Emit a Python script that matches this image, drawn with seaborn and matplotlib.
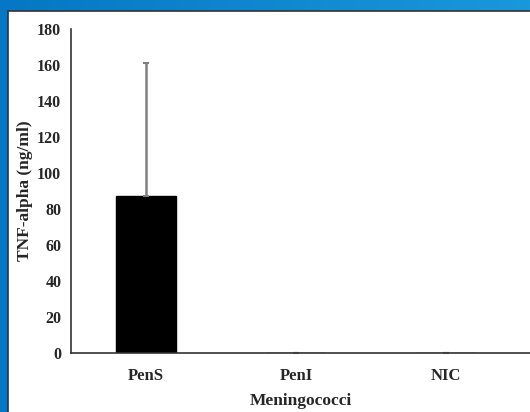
import numpy as np
import matplotlib
matplotlib.use("Agg")
import matplotlib.pyplot as plt
import seaborn as sns
from matplotlib.patches import Rectangle

categories = ["PenS", "PenI", "NIC"]
values = [87, 0, 0]
err_upper = [74, 0, 0]
yticks = [0, 20, 40, 60, 80, 100, 120, 140, 160, 180]

sns.set_style("white")
plt.rcParams["font.family"] = ["Liberation Serif", "DejaVu Serif"]
plt.rcParams["font.weight"] = "bold"

fig = plt.figure(figsize=(5.30, 4.12), dpi=100)

# blue gradient background + white panel
bg = fig.add_axes([0, 0, 1, 1])
grad = np.linspace(0, 1, 256).reshape(1, -1)
cmap = matplotlib.colors.LinearSegmentedColormap.from_list("bl", ["#0577c4", "#1a98dc"])
bg.imshow(grad, aspect="auto", cmap=cmap, extent=[0, 1, 0, 1])
bg.add_patch(Rectangle((8 / 530, -0.01), 1.0, (412 - 11) / 412 + 0.01,
                       facecolor="white", edgecolor="#333333", linewidth=1.2))
bg.set_xlim(0, 1)
bg.set_ylim(0, 1)
bg.axis("off")

ax = fig.add_axes([71 / 530, 59 / 412, 459 / 530, 324 / 412])
ax.set_facecolor("none")
sns.barplot(x=categories, y=values, color="black", width=0.4, ax=ax,
            saturation=1, edgecolor="black")
ax.errorbar(range(len(categories)), values, yerr=[[0] * 3, err_upper],
            fmt="none", ecolor="#808080", elinewidth=1.8, capsize=2.5,
            capthick=1.5)

ax.set_ylim(0, 180)
ax.set_xlim(-0.5, 2.56)
ax.set_yticks(yticks)
ax.set_yticklabels([str(t) for t in yticks], fontsize=11.5, fontweight="bold")

ax.set_xticks([0.5, 1.5, 2.5])
ax.set_xticklabels([])
ax.set_xticks(range(len(categories)), minor=True)
ax.set_xticklabels(categories, minor=True, fontsize=12, fontweight="bold")
ax.tick_params(axis="x", which="minor", length=0, pad=11)
ax.tick_params(axis="x", which="major", direction="out", length=4, width=1, color="#333333")
ax.tick_params(axis="y", direction="out", length=4, width=1, color="#333333", pad=3)

for s in ["top", "right"]:
    ax.spines[s].set_visible(False)
for s in ["left", "bottom"]:
    ax.spines[s].set_color("#333333")
    ax.spines[s].set_linewidth(1.2)

ax.set_xlabel("Meningococci", fontsize=12.5, fontweight="bold", labelpad=6)
ax.set_ylabel("TNF-alpha (ng/ml)", fontsize=12.5, fontweight="bold", labelpad=3)

fig.savefig("out.png", dpi=100)
